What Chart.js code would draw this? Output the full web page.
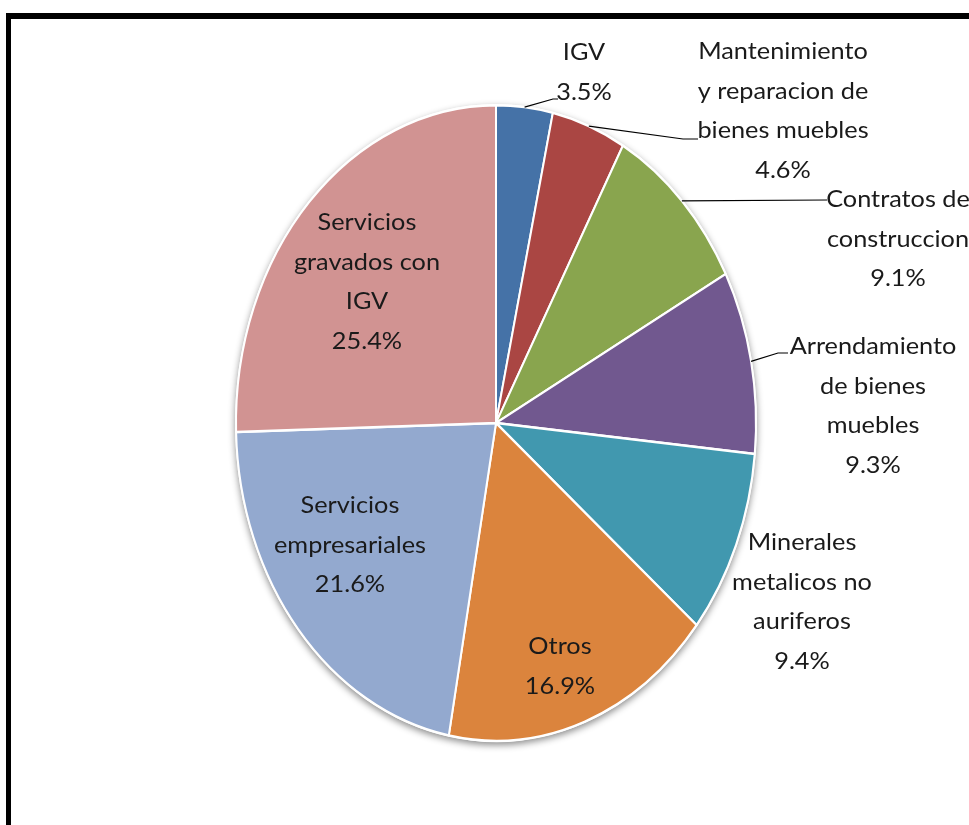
<!DOCTYPE html>
<html>
<head>
<meta charset="utf-8">
<script src="https://cdn.jsdelivr.net/npm/chart.js@4.4.1/dist/chart.umd.min.js"></script>
<style>
  html, body { margin: 0; padding: 0; background: #fff; }
  #wrap { position: relative; width: 969px; height: 825px; overflow: hidden; }
  #frame { position: absolute; left: 6px; top: 13px; width: 1000px; height: 900px;
           border-top: 6px solid #000; border-left: 5px solid #000; }
  canvas { position: absolute; left: 0; top: 0; }
</style>
</head>
<body>
<div id="wrap">
  <div id="frame"></div>
  <canvas id="pie" width="969" height="825"></canvas>
</div>
<script>
// --- Data ---------------------------------------------------------------

const categories = [
  "IGV",
  "Mantenimiento y reparacion de bienes muebles",
  "Contratos de construccion",
  "Arrendamiento de bienes muebles",
  "Minerales metalicos no auriferos",
  "Otros",
  "Servicios empresariales",
  "Servicios gravados con IGV",
];
const shares = [3.5, 4.6, 9.1, 9.3, 9.4, 16.9, 21.6, 25.4];
const labelLines = [
  ["IGV"],
  ["Mantenimiento", "y reparacion de", "bienes muebles"],
  ["Contratos de", "construccion"],
  ["Arrendamiento", "de bienes", "muebles"],
  ["Minerales", "metalicos no", "auriferos"],
  ["Otros"],
  ["Servicios", "empresariales"],
  ["Servicios", "gravados con", "IGV"],
];
const colors = ["#4572A7", "#AA4643", "#89A54E", "#71588F", "#4198AF", "#DB843D", "#93A9CF", "#D19392"];

// --- Layout (label anchors and leader elbows, in page pixels) ------------

const pieStretch = 319 / 261;   // the pie is drawn as an upright ellipse
const textStretch = 1.1;        // labels are a bit wider than Lato
const lineGap = 39.5;
const labelAnchors = [
  { x: 584, y: 53 },
  { x: 783, y: 52 },
  { x: 898, y: 200 },
  { x: 873, y: 347 },
  { x: 802, y: 543 },
  { x: 560, y: 647 },
  { x: 350, y: 506 },
  { x: 367, y: 223 },
];
const leaders = [
  [[553, 99], [558, 99]],
  [[683, 139], [698, 139]],
  [[827, 200]],
  [[778, 353], [788, 353]],
  null, null, null, null,
];

// --- Plugins -------------------------------------------------------------

const ellipsePie = {
  id: "ellipsePie",
  beforeDatasetsDraw(chart) {
    const ctx = chart.ctx;
    const arc = chart.getDatasetMeta(0).data[0];
    const { x, y, outerRadius } = arc.getProps(["x", "y", "outerRadius"], true);
    // soft shadow under the pie
    ctx.save();
    ctx.shadowColor = "rgba(0,0,0,0.45)";
    ctx.shadowBlur = 7;
    ctx.shadowOffsetY = 3;
    ctx.fillStyle = "#fff";
    ctx.beginPath();
    ctx.ellipse(x, y, outerRadius + 1, (outerRadius + 1) * pieStretch, 0, 0, Math.PI * 2);
    ctx.fill();
    ctx.restore();

    ctx.save();
    ctx.translate(x, y);
    ctx.scale(1, pieStretch);
    ctx.translate(-x, -y);
  },
  afterDatasetsDraw(chart) {
    chart.ctx.restore();
  },
};

const pieLabels = {
  id: "pieLabels",
  afterDraw(chart) {
    const ctx = chart.ctx;
    const arcs = chart.getDatasetMeta(0).data;
    ctx.save();
    ctx.font = "23px Lato";
    ctx.fillStyle = "#1a1a1a";
    ctx.textAlign = "center";
    ctx.textBaseline = "middle";
    arcs.forEach((arc, i) => {
      const lines = [...labelLines[i], `${shares[i].toFixed(1)}%`];
      const a = labelAnchors[i];
      lines.forEach((t, j) => {
        ctx.save();
        ctx.translate(a.x, a.y + j * lineGap);
        ctx.scale(textStretch, 1);
        ctx.fillText(t, 0, 0);
        ctx.restore();
      });

      const path = leaders[i];
      if (!path) return;
      const { x, y, startAngle, endAngle, outerRadius } =
        arc.getProps(["x", "y", "startAngle", "endAngle", "outerRadius"], true);
      const mid = (startAngle + endAngle) / 2;
      ctx.strokeStyle = "#000";
      ctx.lineWidth = 1.2;
      ctx.beginPath();
      ctx.moveTo(x + outerRadius * Math.cos(mid), y + outerRadius * pieStretch * Math.sin(mid));
      path.forEach(([px, py]) => ctx.lineTo(px, py));
      ctx.stroke();
    });
    ctx.restore();
  },
};

// --- Chart ---------------------------------------------------------------

new Chart(document.querySelector("#pie"), {
  type: "pie",
  data: {
    labels: categories,
    datasets: [{
      data: shares,
      backgroundColor: colors,
      borderColor: "#fff",
      borderWidth: 2,
    }],
  },
  options: {
    responsive: false,
    animation: false,
    layout: { padding: { left: 23, right: 0, top: 162, bottom: 141 } },
    plugins: { legend: { display: false }, tooltip: { enabled: false } },
  },
  plugins: [ellipsePie, pieLabels],
});
</script>
</body>
</html>
